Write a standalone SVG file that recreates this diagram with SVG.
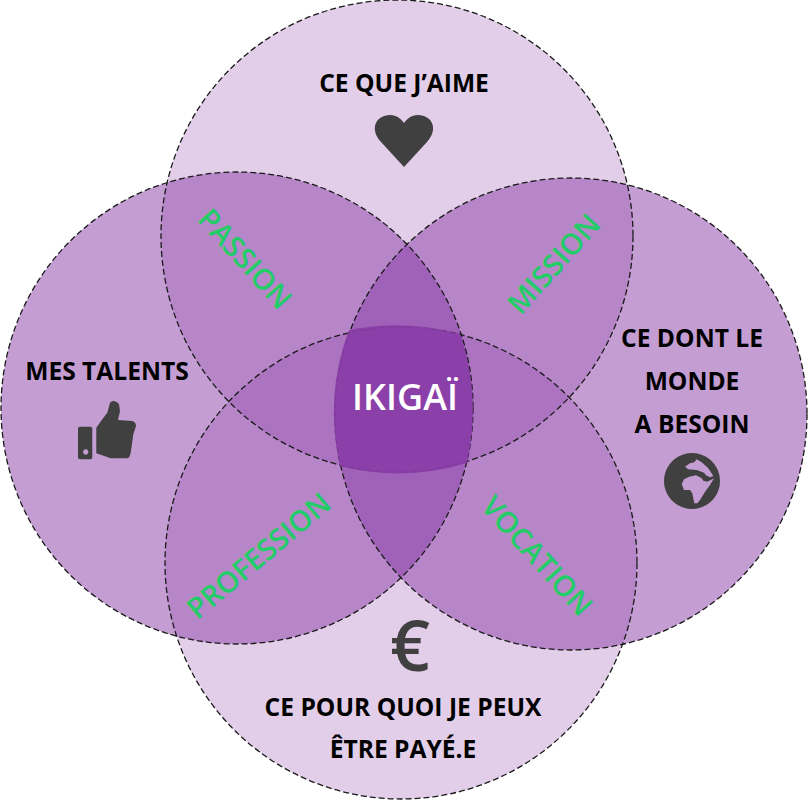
<svg xmlns="http://www.w3.org/2000/svg" width="808" height="801" viewBox="0 0 808 801">
<style>
.c{fill:#8a3da8;stroke:none}
.d{fill:none;stroke:#1a1a1a;stroke-width:1.3;stroke-dasharray:6 3}
.t{font-family:"Open Sans","Noto Sans",sans-serif;font-weight:700;font-size:24.600px;fill:#000;text-anchor:middle}
.g{font-family:"Open Sans","Noto Sans",sans-serif;font-weight:600;font-size:29px;fill:#22cc66;text-anchor:middle}
.i{fill:#404040}
</style>
<rect width="808" height="801" fill="#fff"/>
<g id="circles">
<circle class="c" cx="397" cy="236" r="236" fill-opacity=".25"/>
<circle class="c" cx="401" cy="563" r="236" fill-opacity=".25"/>
<circle class="c" cx="237" cy="408" r="236" fill-opacity=".5"/>
<circle class="c" cx="571" cy="414" r="236" fill-opacity=".5"/>
</g>
<g id="connectors">
<circle class="d" cx="397" cy="236" r="236"/>
<circle class="d" cx="401" cy="563" r="236"/>
<circle class="d" cx="237" cy="408" r="236"/>
<circle class="d" cx="571" cy="414" r="236"/>
</g>
<g id="center">
<path d="M349 330A236 236 0 0 1 460 334A236 236 0 0 1 467 463A236 236 0 0 1 340 466A236 236 0 0 1 349 330Z" fill="#8a3da8" fill-opacity=".93"/>
<text x="405" y="410" font-family="'Open Sans','Noto Sans',sans-serif" font-weight="600" font-size="36" fill="#fff" text-anchor="middle">IKIGAÏ</text>
</g>
<g id="love">
<text class="t" x="404" y="92">CE QUE J’AIME</text>
<path class="i" d="M404 167L381 142C369 129 376 115 390 115C397 115 401 119 404 123C407 119 411 115 418 115C432 115 439 129 427 142Z"/>
</g>
<g id="talents">
<text class="t" x="107" y="380">MES TALENTS</text>
<path class="i" fill-rule="evenodd" d="M80 426.700H90.500Q92.300 426.700 92.300 428.500V457.500Q92.300 459.300 90.500 459.300H80Q78 459.300 78 457.500V428.500Q78 426.700 80 426.700ZM85.700 449.300a2.700 2.700 0 1 0 .01 0Z"/>
<path class="i" d="M96.300 427.700L102.300 419.300L107.300 412.700L110 402.700Q112 400.500 114 401Q118 402 119 404.300L120 411L118 420L132.300 421Q136 422 136 426L133.300 434.300L130.700 452.700Q129.500 458.300 127.300 458.300H110.700L96.300 453.300Z"/>
</g>
<g id="world">
<text class="t" x="692" y="347">CE DONT LE</text>
<text class="t" x="692" y="390">MONDE</text>
<text class="t" x="692" y="433">A BESOIN</text>
<path class="i" fill-rule="evenodd" d="M692 453a28 28 0 1 0 .01 0ZM685 466.700L690 463.300L694.300 462.300L696.700 459.300L701.700 462.300L708.300 468.300L713.300 476L710 477.300L706 475.300L704 472.700L696.700 470L688.300 469.300ZM681.700 484.300L684 479.300L689.300 476.700L696 475.300L701.700 478.300L703.300 480.700L707.300 481.700L714 478.300L710 485L705 491.700L700 500L697.300 503.300L694.300 503.300L692.300 493.300L690 490L684 490Z"/>
</g>
<g id="money">
<text class="t" x="403" y="716">CE POUR QUOI JE PEUX</text>
<text class="t" x="403" y="758">ÊTRE PAYÉ.E</text>
<text x="410" y="671" font-family="'Open Sans',sans-serif" font-weight="600" font-size="70" fill="#404040" text-anchor="middle">€</text>
</g>
<g id="labels">
<text class="g" transform="translate(245 259) rotate(48)" y="10">PASSION</text>
<text class="g" transform="translate(554 264) rotate(-48)" y="10">MISSION</text>
<text class="g" transform="translate(259 556) rotate(-40)" y="10">PROFESSION</text>
<text class="g" transform="translate(537 556) rotate(48)" y="10">VOCATION</text>
</g>
</svg>
